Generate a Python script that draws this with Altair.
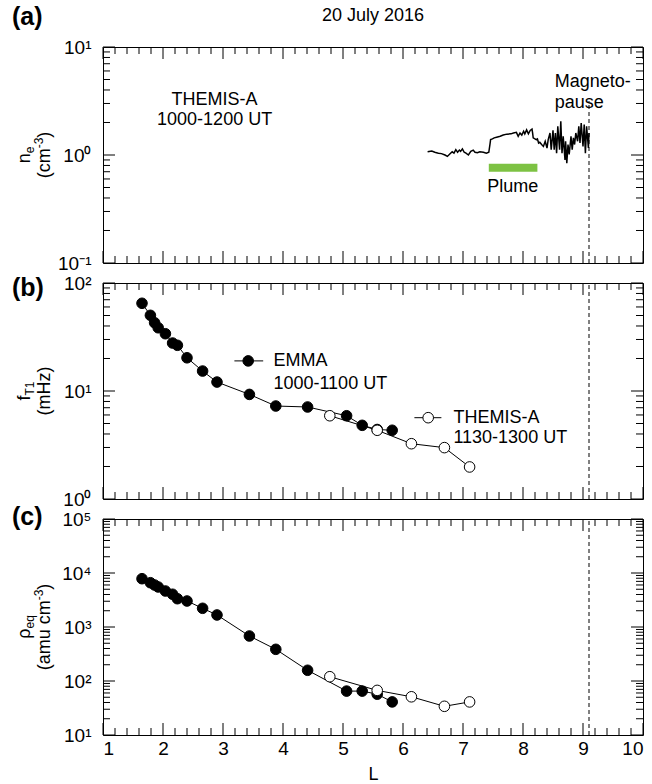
import altair as alt
import pandas as pd

FONT = "Liberation Sans"
FS = 18          # annotation text size
FS_TICK = 19     # tick label size
FS_SMALL = 12    # sub- and superscripts
W, H = 540, 216  # plot area of every panel

# ---------------------------------------------------------------- data
# (a) THEMIS-A electron density along the orbit, 1000-1200 UT
ne_L = [6.41, 6.48, 6.53, 6.59, 6.64, 6.70, 6.74, 6.78, 6.82, 6.85, 6.88, 6.91,
        6.94, 6.96, 6.99, 7.02, 7.05, 7.09, 7.13, 7.17, 7.20, 7.24, 7.28, 7.34,
        7.39, 7.43, 7.45, 7.46, 7.49, 7.52, 7.56, 7.62, 7.67, 7.73, 7.80, 7.84,
        7.89, 7.92, 7.95, 7.98, 8.01, 8.03, 8.06, 8.09, 8.12, 8.15, 8.16, 8.17,
        8.22, 8.24, 8.26, 8.28, 8.31, 8.34, 8.37, 8.40, 8.42, 8.45, 8.47, 8.50,
        8.52, 8.54, 8.56, 8.58, 8.61, 8.63, 8.65, 8.67, 8.70, 8.71, 8.73, 8.75,
        8.77, 8.80, 8.82, 8.84, 8.86, 8.88, 8.91, 8.93, 8.95, 8.97, 9.00, 9.02,
        9.04, 9.06, 9.09, 9.10]
ne_val = [1.07, 1.09, 1.06, 1.04, 1.03, 1.00, 0.97, 1.02, 1.07, 1.04, 1.12, 1.06,
          1.11, 1.08, 1.14, 1.06, 1.04, 1.00, 1.08, 1.11, 1.06, 1.05, 1.07, 1.06,
          1.04, 1.06, 1.26, 1.39, 1.41, 1.44, 1.46, 1.49, 1.53, 1.56, 1.57, 1.60,
          1.62, 1.49, 1.60, 1.53, 1.66, 1.57, 1.71, 1.57, 1.69, 1.74, 1.60, 1.44,
          1.39, 1.41, 1.29, 1.31, 1.25, 1.20, 1.34, 1.16, 1.39, 1.60, 1.12, 1.69,
          1.12, 1.60, 1.04, 1.84, 1.12, 2.05, 1.04, 1.49, 0.90, 1.34, 0.84, 1.25,
          1.01, 1.49, 1.12, 1.44, 1.25, 1.60, 1.34, 1.84, 1.29, 1.98, 1.20, 1.91,
          1.04, 1.84, 1.16, 1.60]

# (b), (c) EMMA, 1000-1100 UT
emma_L = [1.65, 1.79, 1.86, 1.92, 2.04, 2.16, 2.24, 2.40, 2.66, 2.90, 3.44,
          3.88, 4.41, 5.06, 5.32, 5.57, 5.82]
emma_f = [64.9, 50.2, 42.9, 38.5, 33.9, 27.8, 26.5, 20.3, 15.3, 12.1, 9.3,
          7.26, 7.11, 5.90, 4.81, 4.40, 4.33]
emma_rho = [7840, 6610, 5990, 5510, 4640, 4040, 3340, 3030, 2220, 1670, 681,
            386, 158, 65, 65, 57, 41]

# (b), (c) THEMIS-A, 1130-1300 UT
themis_L = [4.78, 5.57, 6.14, 6.69, 7.11]
themis_f = [5.90, 4.33, 3.25, 2.99, 1.98]
themis_rho = [120, 67, 51, 34, 41]

plume_L = [7.43, 8.24]
plume_n = 0.76
magnetopause_L = 9.1

# axis ticks
x_major = list(range(1, 11))
x_minor = [round(i + 0.2 * k, 1) for i in range(1, 10) for k in range(1, 5)]


def log_ticks(lo_exp, hi_exp):
    major = [10.0 ** e for e in range(lo_exp, hi_exp + 1)]
    minor = [m * 10.0 ** e for e in range(lo_exp, hi_exp) for m in range(2, 10)]
    return major, minor


SUP = {"-": "\u207b", "0": "\u2070", "1": "\u00b9", "2": "\u00b2", "3": "\u00b3",
       "4": "\u2074", "5": "\u2075"}


def pow_label_expr(lo_exp, hi_exp):
    expr = ""
    for e in range(hi_exp, lo_exp - 1, -1):
        lab = "10" + "".join(SUP[c] for c in str(e))
        if e == hi_exp:
            expr = f"'{lab}'"
        else:
            expr = f"datum.value < {10.0 ** e * 3} ? '{lab}' : ({expr})"
    return expr


# rough Helvetica advance widths, used to lay out rotated axis titles
CHAR_W = {"(": 333, ")": 333, "-": 333, " ": 278, "a": 556, "c": 500, "e": 556,
          "f": 278, "m": 833, "n": 556, "q": 556, "u": 556, "z": 500, "H": 722,
          "T": 611, "\u03c1": 576}


def text_w(s, size):
    return sum(CHAR_W.get(c, 556) for c in s) * size / 1000.0


xs = alt.Scale(domain=[1, 10], nice=False, zero=False)


class Panel:
    """Builds layers that all share one x and one y scale/axis definition."""

    def __init__(self, yscale, yaxis, xaxis=None):
        self.ys = yscale
        self.yaxis = yaxis
        self.xaxis = xaxis

    def X(self, f):
        return alt.X(f, scale=xs, axis=self.xaxis)

    def Y(self, f):
        return alt.Y(f, scale=self.ys, axis=self.yaxis)

    def frame_ticks(self, ymaj, ymin):
        layers = []
        for vals, ln in ((x_major, 12), (x_minor, 7)):
            base = alt.Chart(pd.DataFrame({"v": vals})).mark_rule(color="black", strokeWidth=1)
            layers.append(base.encode(x=self.X("v:Q"), y=alt.value(H - ln), y2=alt.value(H)))
            layers.append(base.encode(x=self.X("v:Q"), y=alt.value(0), y2=alt.value(ln)))
        for vals, ln in ((ymaj, 12), (ymin, 7)):
            base = alt.Chart(pd.DataFrame({"v": vals})).mark_rule(color="black", strokeWidth=1)
            layers.append(base.encode(y=self.Y("v:Q"), x=alt.value(0), x2=alt.value(ln)))
            layers.append(base.encode(y=self.Y("v:Q"), x=alt.value(W - ln), x2=alt.value(W)))
        return layers

    def note(self, x, y, txt, align="left", line_height=21):
        df = pd.DataFrame({"x": [x], "y": [y], "t": [txt]})
        return (alt.Chart(df)
                .mark_text(align=align, baseline="middle", fontSize=FS, font=FONT,
                           color="black", lineBreak="\n", lineHeight=line_height)
                .encode(x=self.X("x:Q"), y=self.Y("y:Q"), text="t:N"))

    def dashed(self, lo, hi):
        df = pd.DataFrame({"x": [magnetopause_L], "y": [lo], "y2": [hi]})
        return (alt.Chart(df).mark_rule(color="black", strokeWidth=1, strokeDash=[4, 3])
                .encode(x=self.X("x:Q"), y=self.Y("y:Q"), y2="y2:Q"))

    def series(self, L, vals, filled):
        df = pd.DataFrame({"L": L, "v": vals})
        line = alt.Chart(df).mark_line(color="black", strokeWidth=1).encode(
            x=self.X("L:Q"), y=self.Y("v:Q"))
        pts = self.points(df, "L:Q", "v:Q", filled)
        return line, pts

    def points(self, df, xf, yf, filled):
        return alt.Chart(df).mark_point(
            shape="circle", size=112, filled=True, opacity=1,
            fill="black" if filled else "white", stroke="black", strokeWidth=1
        ).encode(x=self.X(xf), y=self.Y(yf))

    def key_rule(self, x, x2, y):
        df = pd.DataFrame({"x": [x], "x2": [x2], "y": [y]})
        return alt.Chart(df).mark_rule(color="black", strokeWidth=1).encode(
            x=self.X("x:Q"), x2="x2:Q", y=self.Y("y:Q"))


def ytitle(line1, line2):
    layers = []
    for xpos, parts in ((-78, line1), (-58, line2)):
        total = sum(text_w(t, s) for t, s, _ in parts)
        start = -total / 2
        for t, s, shift in parts:
            layers.append(
                alt.Chart(pd.DataFrame({"t": [t]}))
                .mark_text(angle=270, align="left", baseline="middle", fontSize=s,
                           font=FONT, dx=start, dy=shift, color="black")
                .encode(text="t:N", x=alt.value(xpos), y=alt.value(H / 2))
            )
            start += text_w(t, s)
    return layers


def pixel_text(txt, x, y, size, weight="normal", align="left"):
    return (alt.Chart(pd.DataFrame({"t": [txt]}))
            .mark_text(align=align, baseline="middle", fontSize=size, fontWeight=weight,
                       font=FONT, color="black")
            .encode(text="t:N", x=alt.value(x), y=alt.value(y)))


def y_axis(lo, hi):
    return alt.Axis(values=[10.0 ** e for e in range(lo, hi + 1)],
                    labelExpr=pow_label_expr(lo, hi), title=None, ticks=False,
                    domain=False, grid=False, labelPadding=12)


# ---------------------------------------------------------------- panel (a)
pa = Panel(alt.Scale(type="log", domain=[0.1, 10], nice=False), y_axis(-1, 1))
a_maj, a_min = log_ticks(-1, 1)
ne_df = pd.DataFrame({"L": ne_L, "n": ne_val, "i": range(len(ne_L))})
ne_line = alt.Chart(ne_df).mark_line(color="black", strokeWidth=1.5).encode(
    x=pa.X("L:Q"), y=pa.Y("n:Q"), order="i:Q")
plume = alt.Chart(pd.DataFrame({"x": [plume_L[0]], "x2": [plume_L[1]], "y": [plume_n]})) \
    .mark_rule(color="#7dc243", strokeWidth=8) \
    .encode(x=pa.X("x:Q"), x2="x2:Q", y=pa.Y("y:Q"))

panel_a = alt.layer(
    ne_line,
    *pa.frame_ticks(a_maj, a_min),
    pa.dashed(0.1, 3.16),
    plume,
    pa.note(2.86, 3.23, "THEMIS-A\n1000-1200 UT", "center", 20),
    pa.note(8.53, 4.79, "Magneto-\npause", "left", 21),
    pa.note(7.83, 0.51, "Plume", "center"),
    pixel_text("20 July 2016", W / 2, -31, FS, align="center"),
    pixel_text("(a)", -91, -30, 25, "bold"),
    *ytitle([("n", FS, 0), ("e", FS_SMALL, 5)],
            [("(cm", FS, 0), ("-3", FS_SMALL, -6), (")", FS, 0)]),
).properties(width=W, height=H)

# ---------------------------------------------------------------- panel (b)
pb = Panel(alt.Scale(type="log", domain=[1, 100], nice=False), y_axis(0, 2))
b_maj, b_min = log_ticks(0, 2)
eb_line, eb_pts = pb.series(emma_L, emma_f, True)
tb_line, tb_pts = pb.series(themis_L, themis_f, False)

panel_b = alt.layer(
    *pb.frame_ticks(b_maj, b_min),
    pb.dashed(1, 100),
    eb_line, tb_line, eb_pts, tb_pts,
    pb.key_rule(3.19, 3.67, 19.0),
    pb.points(pd.DataFrame({"x": [3.42], "y": [19.0]}), "x:Q", "y:Q", True),
    pb.note(3.84, 19.0, "EMMA\n1000-1100 UT", "left", 23),
    pb.key_rule(6.19, 6.64, 5.66),
    pb.points(pd.DataFrame({"x": [6.42], "y": [5.66]}), "x:Q", "y:Q", False),
    pb.note(6.84, 5.66, "THEMIS-A\n1130-1300 UT", "left", 20),
    pixel_text("(b)", -91, 5, 25, "bold"),
    *ytitle([("f", FS, 0), ("T1", FS_SMALL, 5)],
            [("(mHz)", FS, 0)]),
).properties(width=W, height=H)

# ---------------------------------------------------------------- panel (c)
x_axis_c = alt.Axis(values=x_major, format="d", title="L", ticks=False, domain=False,
                    grid=False, labelPadding=4, titlePadding=7)
pc = Panel(alt.Scale(type="log", domain=[10, 1e5], nice=False), y_axis(1, 5), x_axis_c)
c_maj, c_min = log_ticks(1, 5)
ec_line, ec_pts = pc.series(emma_L, emma_rho, True)
tc_line, tc_pts = pc.series(themis_L, themis_rho, False)

panel_c = alt.layer(
    *pc.frame_ticks(c_maj, c_min),
    pc.dashed(10, 1e5),
    ec_line, tc_line, ec_pts, tc_pts,
    pixel_text("(c)", -91, -2, 25, "bold"),
    *ytitle([("\u03c1", FS, 0), ("eq", FS_SMALL, 5)],
            [("(amu cm", FS, 0), ("-3", FS_SMALL, -6), (")", FS, 0)]),
).properties(width=W, height=H)

chart = (
    alt.vconcat(panel_a, panel_b, panel_c, spacing=20, bounds="flush")
    .properties(padding={"left": 11, "top": 4, "right": 0, "bottom": 0}, background="white")
    .configure_view(stroke="black", strokeWidth=1)
    .configure_axis(labelFont=FONT, labelFontSize=FS_TICK, labelColor="black",
                    titleFont=FONT, titleFontSize=FS, titleFontWeight="normal",
                    titleColor="black")
)

chart.save("out.html", embed_options={"renderer": "svg", "actions": False})
